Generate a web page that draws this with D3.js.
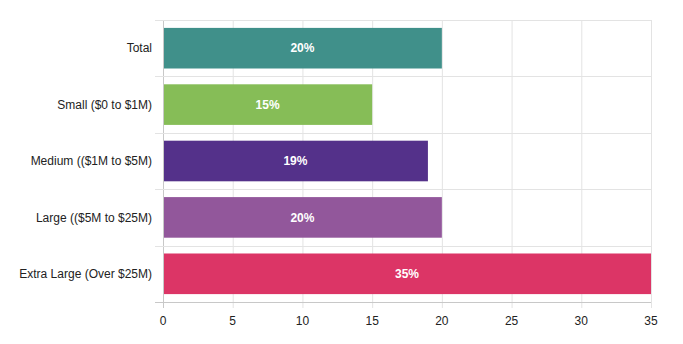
<!DOCTYPE html>
<html><head><meta charset="utf-8">
<script src="https://cdn.jsdelivr.net/npm/d3@7"></script>
<style>body{margin:0;background:#fff}svg{display:block}text{font-family:"Liberation Sans",Arial,Helvetica,sans-serif}</style>
</head><body><svg id="c" width="683" height="344"></svg>
<script>
const categories = ["Total","Small ($0 to $1M)","Medium (($1M to $5M)","Large (($5M to $25M)","Extra Large (Over $25M)"];
const values = [20,15,19,20,35];
const barColors = ["#40908a","#86bd57","#54318a","#92579b","#dc3566"];
const xTicks = [0,5,10,15,20,25,30,35];

const svg = d3.select("#c");
const L=163, R=651, T=20, B=302;
const x = d3.scaleLinear().domain([0,35]).range([L,R]);
const y = d3.scaleBand().domain(categories).range([T,B]);
const bw = y.bandwidth()*0.72;

// vertical grid
svg.append("g").selectAll("line").data(xTicks).join("line")
  .attr("x1",d=>x(d)+0.5).attr("x2",d=>x(d)+0.5).attr("y1",T).attr("y2",B+6)
  .attr("stroke",d=>d===0?"#c8c8c8":"#e3e3e3");
// horizontal grid (band boundaries)
const bounds = categories.map(c=>y(c)).concat([B]);
svg.append("g").selectAll("line").data(bounds).join("line")
  .attr("x1",L-8).attr("x2",R).attr("y1",d=>Math.round(d)+0.5).attr("y2",d=>Math.round(d)+0.5)
  .attr("stroke",(d,i)=>i===bounds.length-1?"#c8c8c8":"#e3e3e3");

// bars
svg.append("g").selectAll("rect").data(values).join("rect")
  .attr("x",x(0)+1).attr("y",(d,i)=>y(categories[i])+(y.bandwidth()-bw)/2)
  .attr("width",d=>x(d)-x(0)-1).attr("height",bw)
  .attr("fill",(d,i)=>barColors[i]);

// value labels
svg.append("g").selectAll("text").data(values).join("text")
  .attr("x",d=>(x(0)+x(d))/2).attr("y",(d,i)=>y(categories[i])+y.bandwidth()/2)
  .attr("dy","0.35em").attr("text-anchor","middle").attr("fill","#fff")
  .attr("font-size",12).attr("font-weight","bold").text(d=>d+"%");

// y labels
svg.append("g").selectAll("text").data(categories).join("text")
  .attr("x",152).attr("y",d=>y(d)+y.bandwidth()/2).attr("dy","0.35em")
  .attr("text-anchor","end").attr("fill","#222").attr("font-size",12).text(d=>d);

// x labels
svg.append("g").selectAll("text").data(xTicks).join("text")
  .attr("x",d=>x(d)).attr("y",321).attr("dy","0.35em")
  .attr("text-anchor","middle").attr("fill","#222").attr("font-size",12).text(d=>d);
</script></body></html>
